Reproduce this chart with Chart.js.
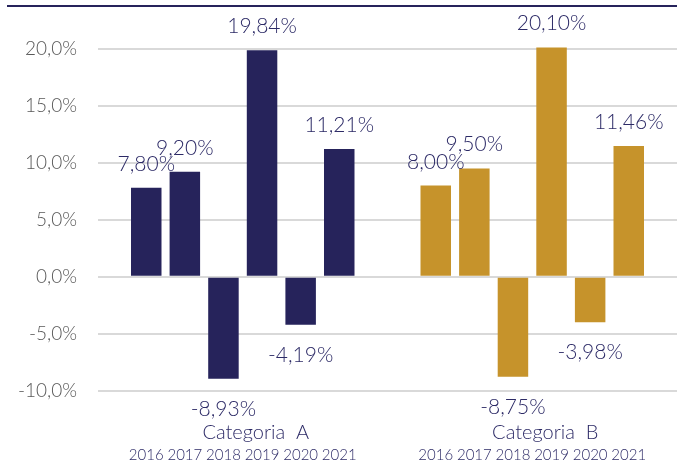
<!DOCTYPE html>
<html>
<head>
<meta charset="utf-8">
<script src="https://cdn.jsdelivr.net/npm/chart.js@4/dist/chart.umd.min.js"></script>
<style>
  html, body { margin: 0; padding: 0; background: #ffffff; }
  #wrap { width: 677px; height: 461px; position: relative; }
</style>
</head>
<body>
<div id="wrap"><canvas id="c" width="677" height="461"></canvas></div>
<script>
// ---- data ----
const categories = ['Categoria  A', 'Categoria  B'];
const years = ['2016', '2017', '2018', '2019', '2020', '2021'];
const seriesA = [7.80, 9.20, -8.93, 19.84, -4.19, 11.21];
const seriesB = [8.00, 9.50, -8.75, 20.10, -3.98, 11.46];
const yTicks = [-10, -5, 0, 5, 10, 15, 20];

// ---- style ----
const NAVY = '#26235b';
const GOLD = '#c6932b';
const LABEL = '#2c2a66';
const FONT = 'Lato, "Open Sans", sans-serif';

const datasets = years.map((y, i) => ({
  label: y,
  data: [seriesA[i], seriesB[i]],
  backgroundColor: [NAVY, GOLD],
  borderWidth: 0
}));

const fmt = v => v.toFixed(2).replace('.', ',') + '%';

const labelPlugin = {
  id: 'labels',
  afterDatasetsDraw(chart) {
    const ctx = chart.ctx;
    ctx.save();
    chart.data.datasets.forEach((ds, di) => {
      const meta = chart.getDatasetMeta(di);
      meta.data.forEach((el, i) => {
        const v = ds.data[i];
        ctx.fillStyle = LABEL;
        ctx.textAlign = 'center';
        ctx.textBaseline = 'alphabetic';
        ctx.font = '300 21px ' + FONT;
        const y = v >= 0 ? el.y - 17 : el.y + 37;
        ctx.fillText(fmt(v), el.x, y);
        // year label under each bar
        ctx.font = '300 15px ' + FONT;
        ctx.fillText(ds.label, el.x, 460);
      });
    });
    // top rule
    ctx.fillStyle = NAVY;
    ctx.fillRect(7, 5, chart.width - 7, 2);
    ctx.restore();
  }
};

new Chart(document.getElementById('c'), {
  type: 'bar',
  data: { labels: categories, datasets },
  options: {
    responsive: false,
    animation: false,
    events: [],
    layout: { padding: { top: 20, right: 0, left: 0, bottom: 0 } },
    datasets: { bar: { categoryPercentage: 0.8, barPercentage: 0.79 } },
    plugins: { legend: { display: false }, tooltip: { enabled: false } },
    scales: {
      x: {
        grid: { display: false, drawTicks: false },
        border: { display: false },
        ticks: {
          color: LABEL,
          font: { family: FONT, size: 20, weight: 300 },
          padding: 30,
          labelOffset: 13,
          maxRotation: 0
        },
        afterFit(s) { s.height = 70; s.paddingLeft = 0; s.paddingRight = 0; }
      },
      y: {
        min: -10,
        max: 22.5,
        afterBuildTicks(s) { s.ticks = yTicks.map(v => ({ value: v })); },
        grid: { color: '#d9d9d9', lineWidth: 2, drawTicks: false },
        border: { display: false },
        ticks: {
          color: '#595959',
          font: { family: FONT, size: 19, weight: 300 },
          padding: 21,
          callback: v => v.toFixed(1).replace('.', ',') + '%'
        },
        afterFit(s) { s.width = 98; s.paddingTop = 0; s.paddingBottom = 0; }
      }
    }
  },
  plugins: [labelPlugin]
});
</script>
</body>
</html>
